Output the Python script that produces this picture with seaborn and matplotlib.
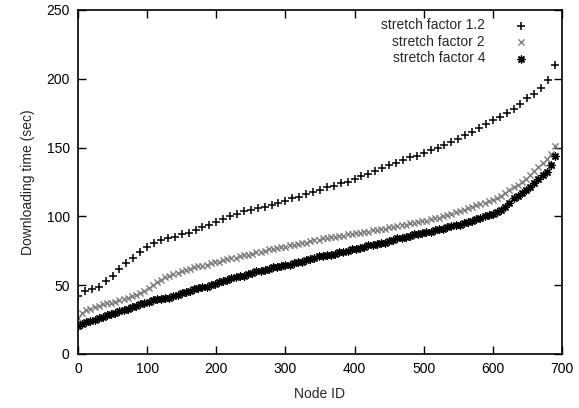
import numpy as np
import pandas as pd
import matplotlib
matplotlib.use("Agg")
import matplotlib.pyplot as plt
import seaborn as sns

# node IDs sampled in the plot
node_ids_12 = np.arange(0, 691, 10)
node_ids_other = np.arange(0, 691, 6)

# stretch factor 1.2 (every 10th node)
time_sf12 = [42, 46, 47, 49, 53, 57, 62, 66, 70, 74,
             78, 81, 83, 84, 85, 87, 88, 90, 92, 94,
             96, 98, 100, 102, 104, 105, 106, 107, 108, 110,
             111, 113, 114, 116, 118, 119, 121, 122, 124, 125,
             127, 129, 131, 133, 135, 137, 139, 141, 143, 144,
             146, 148, 150, 152, 154, 156, 159, 161, 164, 167,
             170, 172, 175, 178, 182, 186, 189, 193, 199, 210]

# stretch factor 2 (every 6th node)
time_sf2 = [26, 30, 32, 33, 34, 35, 36, 37, 37, 38,
            39, 40, 41, 42, 43, 44, 46, 48, 50, 52,
            54, 56, 57, 58, 59, 60, 61, 62, 63, 64,
            64, 65, 66, 67, 67, 68, 69, 70, 70, 71,
            72, 72, 73, 74, 74, 75, 76, 76, 77, 78,
            78, 79, 79, 80, 81, 81, 82, 83, 83, 84,
            84, 85, 85, 86, 86, 87, 87, 88, 88, 89,
            89, 90, 90, 91, 91, 92, 92, 93, 94, 94,
            95, 95, 96, 97, 97, 98, 99, 99, 100, 101,
            102, 103, 104, 105, 106, 107, 108, 109, 110, 111,
            112, 113, 115, 117, 119, 121, 123, 125, 127, 130,
            133, 136, 139, 142, 145, 151]

# stretch factor 4 (every 6th node)
time_sf4 = [20, 22, 23, 24, 25, 26, 27, 28, 29, 30,
            31, 32, 33, 34, 35, 36, 37, 38, 39, 40,
            40, 41, 41, 42, 43, 44, 45, 46, 47, 48,
            49, 49, 50, 51, 52, 53, 54, 55, 56, 57,
            57, 58, 59, 60, 60, 61, 62, 63, 63, 64,
            65, 65, 66, 67, 67, 68, 69, 70, 71, 71,
            72, 72, 73, 74, 74, 75, 76, 76, 77, 78,
            79, 79, 80, 81, 81, 82, 83, 84, 84, 85,
            86, 87, 87, 88, 89, 89, 90, 91, 91, 92,
            93, 94, 94, 95, 96, 97, 98, 99, 100, 101,
            102, 103, 105, 107, 110, 113, 115, 117, 119, 121,
            124, 127, 130, 132, 137, 144]

labels = ["stretch factor 1.2", "stretch factor 2", "stretch factor 4"]


def main():
    sns.set_style("ticks")
    plt.rcParams["font.family"] = ["Liberation Sans", "DejaVu Sans"]
    plt.rcParams["font.size"] = 10

    fig = plt.figure(figsize=(5.79, 4.08), dpi=100)
    ax = fig.add_axes([0.1347, 0.1324, 0.8359, 0.8431])

    sns.scatterplot(x=node_ids_12, y=time_sf12, marker="+", color="black",
                    s=34, linewidth=1.1, label=labels[0], ax=ax)
    sns.scatterplot(x=node_ids_other, y=time_sf2, marker="x", color="#808080",
                    s=20, linewidth=1.0, label=labels[1], ax=ax)
    sns.scatterplot(x=node_ids_other, y=time_sf4, marker=(8, 2, 0), color="black",
                    s=26, linewidth=1.0, label=labels[2], ax=ax)

    ax.set_xlim(0, 700)
    ax.set_ylim(0, 250)
    ax.set_xticks(range(0, 701, 100))
    ax.set_yticks(range(0, 251, 50))
    ax.tick_params(direction="in", length=6, width=1, top=True, right=True,
                   labelsize=10, colors="black", pad=6)
    for sp in ax.spines.values():
        sp.set_visible(True)
        sp.set_linewidth(1.2)
        sp.set_color("black")

    ax.set_xlabel("Node ID", fontsize=10, labelpad=8)
    ax.set_ylabel("Downloading time (sec)", fontsize=10, labelpad=8)

    leg = ax.legend(loc="upper right", bbox_to_anchor=(0.95, 1.0), frameon=False,
                    fontsize=10, handlelength=1.2, handletextpad=2.0,
                    labelspacing=0.18, borderaxespad=0.2)
    # text on the left, marker on the right, right-aligned like gnuplot
    vp = leg._legend_box._children[-1]._children[0]
    for c in vp._children:
        c._children.reverse()
    vp.align = "right"

    fig.savefig("out.png", dpi=100)


if __name__ == "__main__":
    main()
